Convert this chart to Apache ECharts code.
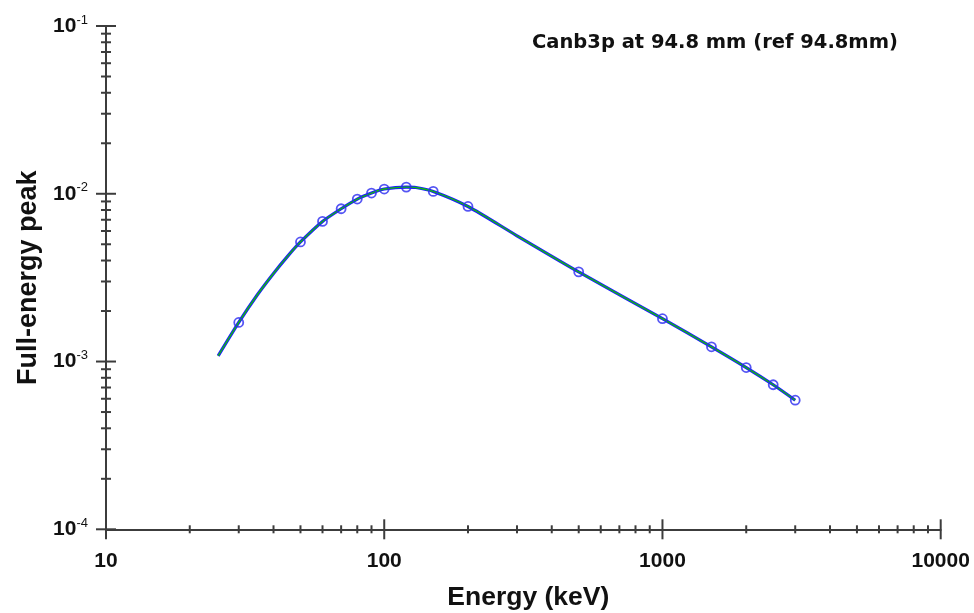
<!DOCTYPE html>
<html>
<head>
    <meta charset="UTF-8">
    <title>Full-energy peak efficiency</title>
    <script src="https://cdn.jsdelivr.net/npm/echarts@6/dist/echarts.min.js"></script>
    <style type="text/css">
        html, body, #main {
            height: 100%;
            width: 100%;
            margin: 0;
            padding: 0;
            background: #fff;
        }
    </style>
</head>
<body>
<div id="main"></div>
<script type="text/javascript">
    // measured points (keV / efficiency)
    var energy = [30, 50, 60, 70, 80, 90, 100, 120, 150, 200, 500, 1000, 1500, 2000, 2500, 3000];
    var efficiency = [1.71e-3, 5.16e-3, 6.84e-3, 8.14e-3, 9.3e-3, 1.01e-2, 1.067e-2, 1.096e-2, 1.033e-2, 8.4e-3,
        3.42e-3, 1.8e-3, 1.224e-3, 9.21e-4, 7.27e-4, 5.88e-4];
    // fitted curve
    var fitEnergy = [25.3, 30, 35, 40, 45, 50, 60, 70, 80, 90, 100, 120, 130, 150, 200, 300, 500, 1000, 1500, 2000, 2500, 3000];
    var fitEff = [1.08e-3, 1.71e-3, 2.5e-3, 3.35e-3, 4.25e-3, 5.16e-3, 6.84e-3, 8.14e-3, 9.3e-3, 1.01e-2, 1.067e-2,
        1.096e-2, 1.09e-2, 1.033e-2, 8.4e-3, 5.62e-3, 3.42e-3, 1.8e-3, 1.224e-3, 9.21e-4, 7.27e-4, 5.88e-4];
    // axis ticks
    var xMajor = [10, 100, 1000, 10000];
    var xMinor = [20, 30, 40, 50, 60, 70, 80, 90, 200, 300, 400, 500, 600, 700, 800, 900,
        2000, 3000, 4000, 5000, 6000, 7000, 8000, 9000];
    var yMajor = [1e-4, 1e-3, 1e-2, 1e-1];
    var yMinor = [2e-4, 3e-4, 4e-4, 5e-4, 6e-4, 7e-4, 8e-4, 9e-4, 2e-3, 3e-3, 4e-3, 5e-3, 6e-3, 7e-3, 8e-3, 9e-3,
        2e-2, 3e-2, 4e-2, 5e-2, 6e-2, 7e-2, 8e-2, 9e-2];

    var font = 'Liberation Sans, Arial, sans-serif';
    var axisColor = '#3c3c3c';

    function tickSeries(values, isX, len) {
        return {
            type: 'custom',
            silent: true,
            clip: false,
            z: 1,
            data: values.map(function (v) { return isX ? [v, 1e-4] : [10, v]; }),
            renderItem: function (params, api) {
                var p = api.coord([api.value(0), api.value(1)]);
                var shape = isX
                    ? {x1: p[0], y1: p[1] - len, x2: p[0], y2: p[1] + len}
                    : {x1: p[0] - len, y1: p[1], x2: p[0] + len, y2: p[1]};
                return {type: 'line', shape: shape, style: {stroke: axisColor, lineWidth: 2}};
            }
        };
    }

    var fitData = fitEnergy.map(function (e, i) { return [e, fitEff[i]]; });

    var mycharts = echarts.init(document.getElementById('main'));
    var option = {
        animation: false,
        title: {
            text: 'Canb3p at 94.8 mm (ref 94.8mm)',
            left: 527,
            top: 28,
            textStyle: {fontFamily: 'DejaVu Sans, sans-serif', fontWeight: 'bold', fontSize: 19.5, color: '#111'}
        },
        grid: {left: 106, right: 33.3, top: 26, bottom: 83.7, outerBoundsMode: 'none', containLabel: false},
        xAxis: {
            type: 'log',
            logBase: 10,
            min: 10,
            max: 10000,
            name: 'Energy (keV)',
            nameLocation: 'middle',
            nameGap: 55,
            nameTextStyle: {fontFamily: font, fontWeight: 'bold', fontSize: 26.5, color: '#111', padding: [0, 0, 0, 10]},
            axisLine: {lineStyle: {color: axisColor, width: 2}},
            axisTick: {show: false},
            splitLine: {show: false},
            axisLabel: {
                margin: 21,
                fontFamily: font, fontWeight: 'bold', fontSize: 21, color: '#111',
                formatter: function (v) { return String(Math.round(v)); }
            }
        },
        yAxis: {
            type: 'log',
            logBase: 10,
            min: 1e-4,
            max: 1e-1,
            name: 'Full-energy peak',
            nameLocation: 'middle',
            nameGap: 60,
            nameTextStyle: {fontFamily: font, fontWeight: 'bold', fontSize: 27, color: '#111'},
            axisLine: {lineStyle: {color: axisColor, width: 2}},
            axisTick: {show: false},
            splitLine: {show: false},
            axisLabel: {
                margin: 18,
                formatter: function (v) {
                    return '{b|10}{s|' + Math.round(Math.log10(v)) + '}';
                },
                rich: {
                    b: {fontFamily: font, fontWeight: 'bold', fontSize: 21, color: '#111'},
                    s: {fontFamily: font, fontSize: 13, color: '#111', padding: [0, 0, 12, 0]}
                }
            }
        },
        series: [
            tickSeries(xMajor, true, 10),
            tickSeries(xMinor, true, 4),
            tickSeries(yMajor, false, 10),
            tickSeries(yMinor, false, 5),
            {
                type: 'line',
                data: fitData,
                smooth: 0.25,
                symbol: 'none',
                lineStyle: {color: '#1a1aff', width: 3.2},
                z: 2
            },
            {
                type: 'line',
                data: fitData,
                smooth: 0.25,
                symbol: 'none',
                lineStyle: {color: '#10b810', width: 1.4},
                z: 3
            },
            {
                type: 'scatter',
                data: energy.map(function (e, i) { return [e, efficiency[i]]; }),
                symbol: 'circle',
                symbolSize: 9,
                itemStyle: {color: 'rgba(0,0,0,0)', borderColor: '#2a2af0', borderWidth: 1.8},
                z: 4
            }
        ]
    };
    mycharts.setOption(option);
</script>
</body>
</html>
